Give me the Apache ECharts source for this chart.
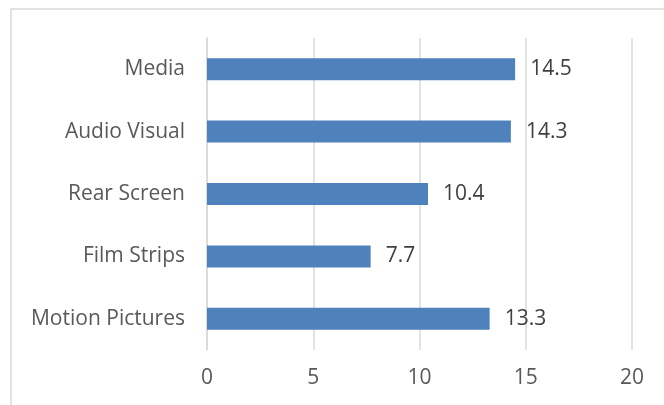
<!DOCTYPE html>
<html>
<head>
<meta charset="utf-8">
<script src="https://cdn.jsdelivr.net/npm/echarts@6/dist/echarts.min.js"></script>
<style>
html,body{margin:0;padding:0;background:#fff;}
#chart{width:664px;height:405px;}
</style>
</head>
<body>
<div id="chart"></div>
<script>
var categories = ['Media', 'Audio Visual', 'Rear Screen', 'Film Strips', 'Motion Pictures'];
var values = [14.5, 14.3, 10.4, 7.7, 13.3];
var tickLabels = [0, 5, 10, 15, 20];

var chart = echarts.init(document.getElementById('chart'), null, {renderer: 'canvas'});
var font = '"Open Sans", sans-serif';
chart.setOption({
  animation: false,
  backgroundColor: '#ffffff',
  graphic: [{
    type: 'rect',
    shape: {x: 11, y: 9, width: 700, height: 500},
    style: {fill: 'none', stroke: '#d9d9d9', lineWidth: 1.5},
    silent: true,
    z: -10
  }],
  grid: {left: 207, right: 32, top: 38, bottom: 55, containLabel: false},
  xAxis: {
    type: 'value',
    min: tickLabels[0],
    max: tickLabels[tickLabels.length - 1],
    interval: tickLabels[1] - tickLabels[0],
    axisLine: {show: false},
    axisTick: {show: false},
    splitLine: {show: true, lineStyle: {color: '#d9d9d9', width: 1.5}},
    axisLabel: {color: '#595959', fontSize: 21, fontFamily: font, margin: 18}
  },
  yAxis: {
    type: 'category',
    inverse: true,
    data: categories,
    axisLine: {show: true, lineStyle: {color: '#d9d9d9', width: 1.5}},
    axisTick: {show: false},
    splitLine: {show: false},
    axisLabel: {color: '#595959', fontSize: 21, fontFamily: font, margin: 22}
  },
  series: [{
    type: 'bar',
    data: values,
    barWidth: 22,
    itemStyle: {color: '#4F81BD'},
    label: {
      show: true,
      position: 'right',
      distance: 15,
      color: '#404040',
      fontSize: 21,
      fontFamily: font
    }
  }]
});
</script>
</body>
</html>
